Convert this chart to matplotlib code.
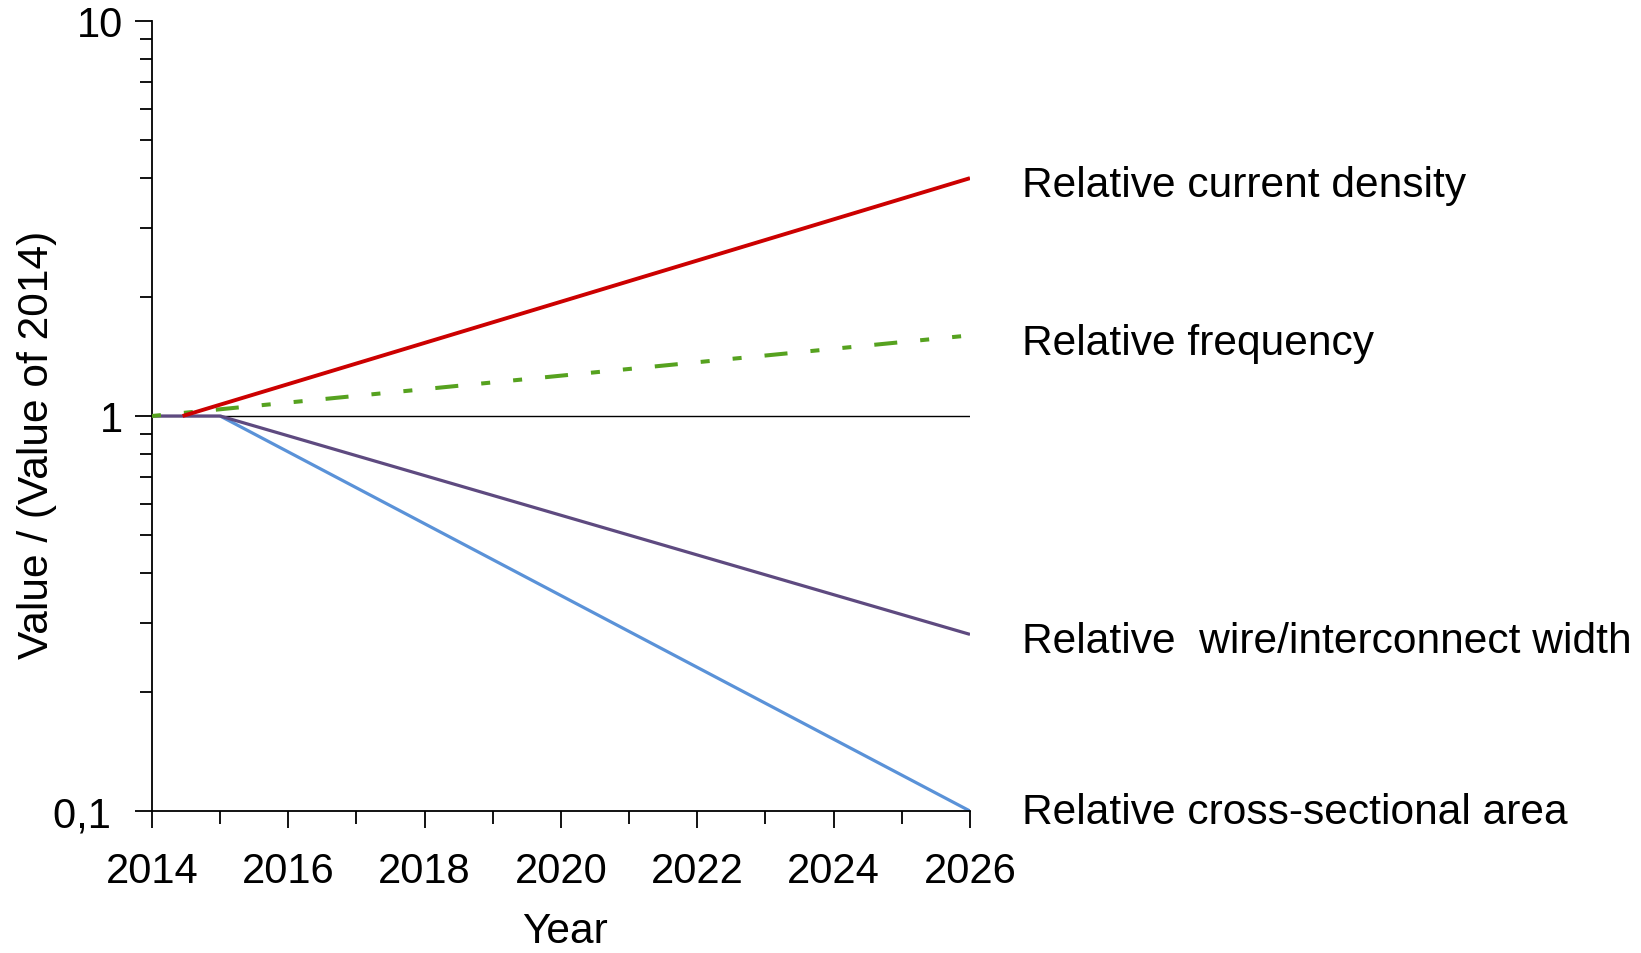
import matplotlib
matplotlib.use("Agg")
import matplotlib.pyplot as plt
from matplotlib.ticker import FixedLocator, LogLocator, NullFormatter, FixedFormatter

plt.rcParams['font.family'] = ['Liberation Sans', 'DejaVu Sans']
plt.rcParams['lines.scale_dashes'] = False

# Data
cd_years = [2014.45, 2026]
cd_vals = [1.0, 4.0]
freq_years = [2014, 2026]
freq_vals = [1.0, 1.6]
width_years = [2014, 2015, 2026]
width_vals = [1.0, 1.0, 0.28]
area_years = [2015, 2026]
area_vals = [1.0, 0.1]
ref_years = [2014, 2026]
ref_vals = [1.0, 1.0]

labels = ["Relative current density", "Relative frequency",
          "Relative  wire/interconnect width", "Relative cross-sectional area"]
x_ticks = [2014, 2016, 2018, 2020, 2022, 2024, 2026]
y_ticks = [0.1, 1, 10]
y_ticklabels = ["0,1 ", "1", "10"]

FS = 30
FS_TXT = 30.6

fig = plt.figure(figsize=(16.41, 9.54), dpi=100)
ax = fig.add_axes([0.0926, 0.1488, 0.4985, 0.8282])
ax.set_yscale('log')
ax.set_xlim(2014, 2026)
ax.set_ylim(0.1, 10)

ax.plot(ref_years, ref_vals, color='black', lw=1.0, zorder=1)
ax.plot(area_years, area_vals, color='#5A92D8', lw=2.3, zorder=2, solid_capstyle='butt')
ax.plot(width_years, width_vals, color='#5E4A80', lw=2.3, zorder=3, solid_capstyle='butt')
ax.plot(freq_years, freq_vals, color='#56A21F', lw=2.9, zorder=4,
        linestyle=(0, (6.5, 16.6, 6.5, 16.6, 16.6, 16.6)))
ax.plot(cd_years, cd_vals, color='#CC0000', lw=2.8, zorder=5, solid_capstyle='butt')

ends = [(cd_years[-1], cd_vals[-1]), (freq_years[-1], freq_vals[-1]),
        (width_years[-1], width_vals[-1]), (area_years[-1], area_vals[-1])]
dy = [-5.0, -5.5, -4.5, -0.7]
for (xe, ye), lab, d in zip(ends, labels, dy):
    ax.annotate(lab, xy=(xe, ye), xytext=(37.5, d), textcoords='offset points',
                ha='left', va='center', fontsize=FS_TXT, annotation_clip=False)

for s in ['top', 'right']:
    ax.spines[s].set_visible(False)
for s in ['left', 'bottom']:
    ax.spines[s].set_linewidth(1.3)

ax.xaxis.set_major_locator(FixedLocator(x_ticks))
ax.xaxis.set_minor_locator(FixedLocator(list(range(2015, 2026, 2))))
ax.yaxis.set_major_locator(FixedLocator(y_ticks))
ax.yaxis.set_major_formatter(FixedFormatter(y_ticklabels))
ax.yaxis.set_minor_locator(LogLocator(base=10, subs=range(2, 10)))
ax.yaxis.set_minor_formatter(NullFormatter())

ax.tick_params(which='major', direction='out', length=12, width=1.3, labelsize=FS)
ax.tick_params(axis='x', which='major', pad=16.5)
ax.tick_params(axis='y', which='major', pad=9)
ax.tick_params(which='minor', direction='out', length=9, width=1.3)

ax.set_xlabel('Year', fontsize=FS_TXT)
ax.set_ylabel('Value / (Value of 2014)', fontsize=FS_TXT)
ax.xaxis.set_label_coords(0.5055, -0.127)
ax.yaxis.set_label_coords(-0.1162, 0.4643)

fig.savefig('out.png', dpi=100)
